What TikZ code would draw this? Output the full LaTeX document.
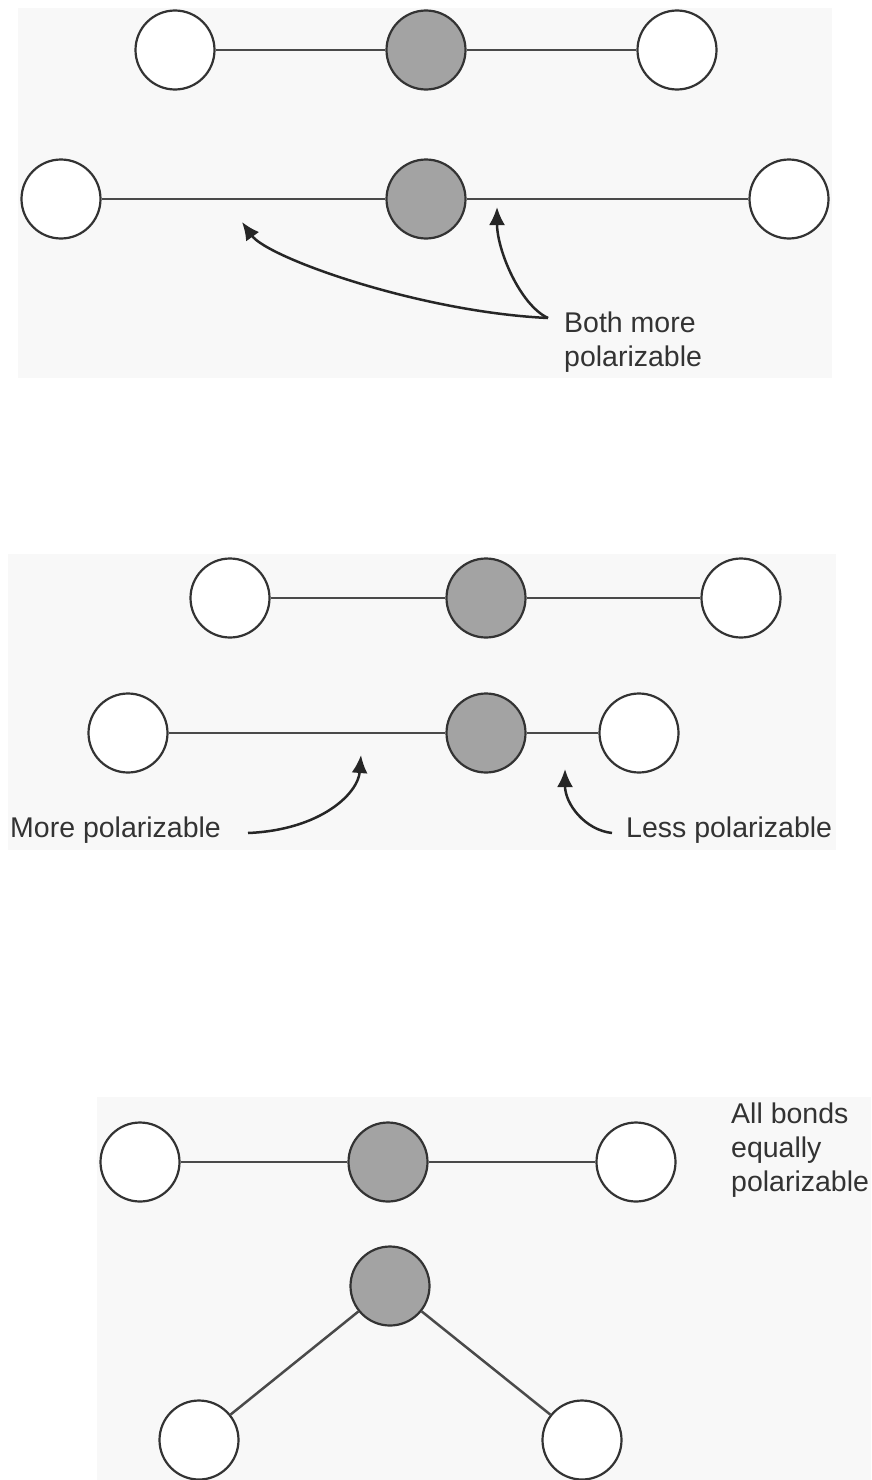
\documentclass[tikz,border=0pt]{standalone}
\usepackage{fontspec}
\setmainfont{Liberation Sans}
\usetikzlibrary{arrows.meta,positioning}
\definecolor{panelbg}{HTML}{F8F8F8}
\definecolor{inkgray}{HTML}{333333}
\definecolor{bondgray}{HTML}{4A4A4A}
\definecolor{coregray}{HTML}{A3A3A3}

\begin{document}
\begin{tikzpicture}[x=1pt, y=-1pt,
    atom/.style={circle, draw=inkgray, line width=2.2pt, fill=white, minimum size=79pt, inner sep=0pt},
    core/.style={atom, fill=coregray},
    bond/.style={draw=bondgray, line width=2.5pt},
    pointer/.style={draw=black!85, line width=2.5pt, -{Latex[length=18pt,width=16pt]}},
    caption/.style={font=\fontsize{28.5}{34}\selectfont, text=inkgray, align=left, inner sep=0pt}]
    \useasboundingbox (0,0) rectangle (871,1480);

    % linear molecule, stretched bonds
    \begin{scope}[shift={(18,8)}]
    \fill[panelbg] (0,0) rectangle (814,370);

    \node[atom] (l1) at (157,42) {};
    \node[core] (c1) at (408,42) {};
    \node[atom] (r1) at (659,42) {};
    \node[atom] (l2) at (43,191) {};
    \node[core] (c2) at (408,191) {};
    \node[atom] (r2) at (771,191) {};
    \node[caption, anchor=north west] (both) at (546,304) {Both more\\polarizable};
    \coordinate (bothtail) at (530,310);
    \coordinate (lefttip) at (224,214);
    \coordinate (righttip) at (479,199);

    \draw[bond] (l1) -- (c1) -- (r1);
    \draw[bond] (l2) -- (c2) -- (r2);
    \draw[pointer] (bothtail) .. controls (402,304) and (250,250) .. (lefttip);
    \draw[pointer] (bothtail) .. controls (502,297) and (479,242) .. (righttip);
    \end{scope}

    % asymmetric stretch
    \begin{scope}[shift={(8,554)}]
    \fill[panelbg] (0,0) rectangle (828,296);

    \node[atom] (al1) at (222,44) {};
    \node[core] (ac1) at (478,44) {};
    \node[atom] (ar1) at (733,44) {};
    \node[atom] (al2) at (120,179) {};
    \node[core] (ac2) at (478,179) {};
    \node[atom] (ar2) at (631,179) {};
    \node[caption, anchor=west] (more) at (2,276) {More polarizable};
    \node[caption, anchor=west] (less) at (618,276) {Less polarizable};
    \coordinate (moretail) at (240,279);
    \coordinate (moretip) at (353,201);
    \coordinate (lesstail) at (604,279);
    \coordinate (lesstip) at (557,215);

    \draw[bond] (al1) -- (ac1) -- (ar1);
    \draw[bond] (al2) -- (ac2) -- (ar2);
    \draw[pointer] (moretail) .. controls (312,276) and (350,240) .. (moretip);
    \draw[pointer] (lesstail) .. controls (577,276) and (557,250) .. (lesstip);
    \end{scope}

    % linear and bent
    \begin{scope}[shift={(97,1097)}]
    \fill[panelbg] (0,0) rectangle (774,383);

    \node[atom] (bl1) at (43,65) {};
    \node[core] (bc1) at (291,65) {};
    \node[atom] (br1) at (539,65) {};
    \node[core] (bc2) at (293,189) {};
    \node[atom] (bl2) at (102,343) {};
    \node[atom] (br2) at (485,343) {};
    \node[caption, anchor=north west] (all) at (634,6) {All bonds\\equally\\polarizable};

    \draw[bond] (bl1) -- (bc1) -- (br1);
    \draw[bond] (bc2) -- (bl2);
    \draw[bond] (bc2) -- (br2);
    \end{scope}
\end{tikzpicture}
\end{document}
